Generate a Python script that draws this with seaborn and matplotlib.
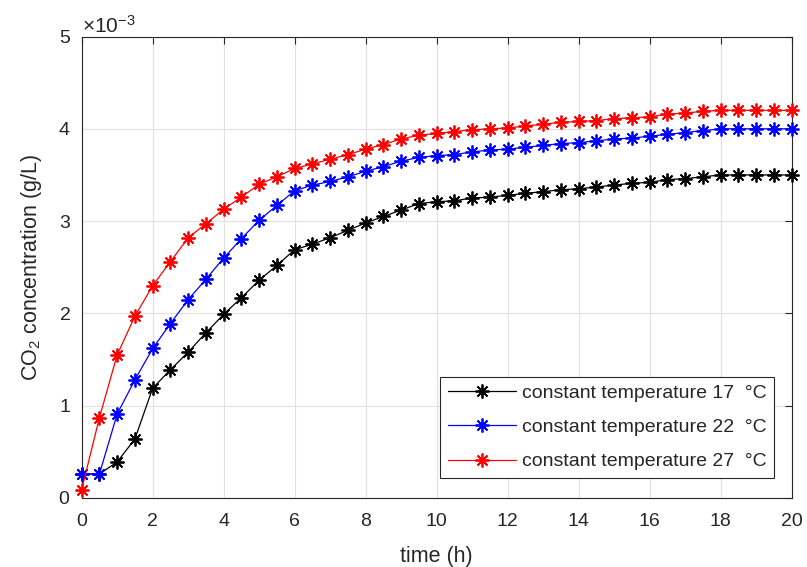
import numpy as np
import pandas as pd
import matplotlib
matplotlib.use("Agg")
import matplotlib.pyplot as plt
from matplotlib.ticker import ScalarFormatter, MultipleLocator
import seaborn as sns

# Sampling times (h)
time_h = [0.0, 0.5, 1.0, 1.5, 2.0, 2.5, 3.0, 3.5, 4.0, 4.5,
          5.0, 5.5, 6.0, 6.5, 7.0, 7.5, 8.0, 8.5, 9.0, 9.5,
          10.0, 10.5, 11.0, 11.5, 12.0, 12.5, 13.0, 13.5, 14.0, 14.5,
          15.0, 15.5, 16.0, 16.5, 17.0, 17.5, 18.0, 18.5, 19.0, 19.5,
          20.0]

# CO2 concentration in units of 1e-3 g/L
conc_17 = [0.26, 0.26, 0.39, 0.64, 1.19, 1.39, 1.58, 1.79, 1.99, 2.17,
           2.36, 2.52, 2.69, 2.75, 2.82, 2.90, 2.98, 3.05, 3.12, 3.19,
           3.21, 3.22, 3.25, 3.26, 3.28, 3.30, 3.32, 3.34, 3.35, 3.37,
           3.39, 3.41, 3.42, 3.45, 3.46, 3.48, 3.50, 3.50, 3.50, 3.50,
           3.50]
conc_22 = [0.26, 0.26, 0.91, 1.28, 1.62, 1.89, 2.15, 2.37, 2.60, 2.81,
           3.01, 3.17, 3.33, 3.39, 3.43, 3.48, 3.54, 3.59, 3.65, 3.69,
           3.71, 3.72, 3.75, 3.77, 3.78, 3.80, 3.82, 3.84, 3.85, 3.87,
           3.89, 3.90, 3.92, 3.94, 3.96, 3.98, 4.00, 4.00, 4.00, 4.00,
           4.00]
conc_27 = [0.09, 0.87, 1.55, 1.97, 2.30, 2.56, 2.82, 2.97, 3.13, 3.26,
           3.40, 3.48, 3.57, 3.62, 3.67, 3.72, 3.78, 3.83, 3.89, 3.93,
           3.95, 3.97, 3.99, 4.00, 4.01, 4.03, 4.05, 4.07, 4.08, 4.09,
           4.11, 4.12, 4.13, 4.16, 4.17, 4.19, 4.20, 4.20, 4.20, 4.20,
           4.20]

series_labels = ["constant temperature 17  \u00b0C",
                 "constant temperature 22  \u00b0C",
                 "constant temperature 27  \u00b0C"]
series_colors = ["black", "blue", "red"]

sns.set_style("white")
plt.rcParams["font.family"] = ["Liberation Sans", "DejaVu Sans"]
plt.rcParams["mathtext.fontset"] = "custom"
plt.rcParams["mathtext.rm"] = "Liberation Sans"
plt.rcParams["mathtext.it"] = "Liberation Sans:italic"
plt.rcParams["mathtext.bf"] = "Liberation Sans:bold"

dark = "#262626"

df = pd.DataFrame({
    "time": time_h * 3,
    "conc": np.concatenate([conc_17, conc_22, conc_27]) * 1e-3,
    "series": np.repeat(series_labels, len(time_h)),
})

fig = plt.figure(figsize=(8.07, 5.67), dpi=100)
ax = fig.add_axes([0.1012, 0.1217, 0.8798, 0.8139])

for lab, col in zip(series_labels, series_colors):
    sub = df[df["series"] == lab]
    sns.lineplot(data=sub, x="time", y="conc", ax=ax, color=col, label=lab,
                 errorbar=None, linewidth=0.9,
                 marker=(8, 2, 0), markersize=10,
                 markeredgecolor=col, markeredgewidth=1.3,
                 clip_on=False, zorder=3)

ax.set_xlim(0, 20)
ax.set_ylim(0, 5e-3)
ax.xaxis.set_major_locator(MultipleLocator(2))
ax.yaxis.set_major_locator(MultipleLocator(1e-3))

fmt = ScalarFormatter(useMathText=True)
fmt.set_powerlimits((0, 0))
ax.yaxis.set_major_formatter(fmt)
ax.yaxis.get_offset_text().set_fontsize(15)
ax.yaxis.get_offset_text().set_color(dark)

ax.grid(True, color="#e1e1e1", linewidth=0.8)
ax.set_axisbelow(True)
for sp in ax.spines.values():
    sp.set_color(dark)
    sp.set_linewidth(0.8)
    sp.set_visible(True)
    sp.set_zorder(2.5)

ax.tick_params(axis="both", which="major", direction="in", length=5,
               width=0.8, color=dark, labelcolor=dark, labelsize=14,
               top=True, right=True)
ax.tick_params(axis="x", pad=11)
ax.tick_params(axis="y", pad=8)

ax.set_xlabel("time (h)", fontsize=15.5, color=dark, labelpad=11)
ax.set_ylabel("CO$_{\\mathrm{2}}$ concentration (g/L)", fontsize=15.5,
              color=dark, labelpad=10)

leg = ax.legend(loc="lower right", bbox_to_anchor=(0.975, 0.043),
                borderaxespad=0, fontsize=14, frameon=True, fancybox=False,
                edgecolor=dark, framealpha=1, handlelength=3.5,
                handletextpad=0.3, borderpad=0.4, labelspacing=0.85)
leg.get_frame().set_linewidth(0.8)
leg.set_zorder(5)

fig.savefig("out.png", dpi=100)
